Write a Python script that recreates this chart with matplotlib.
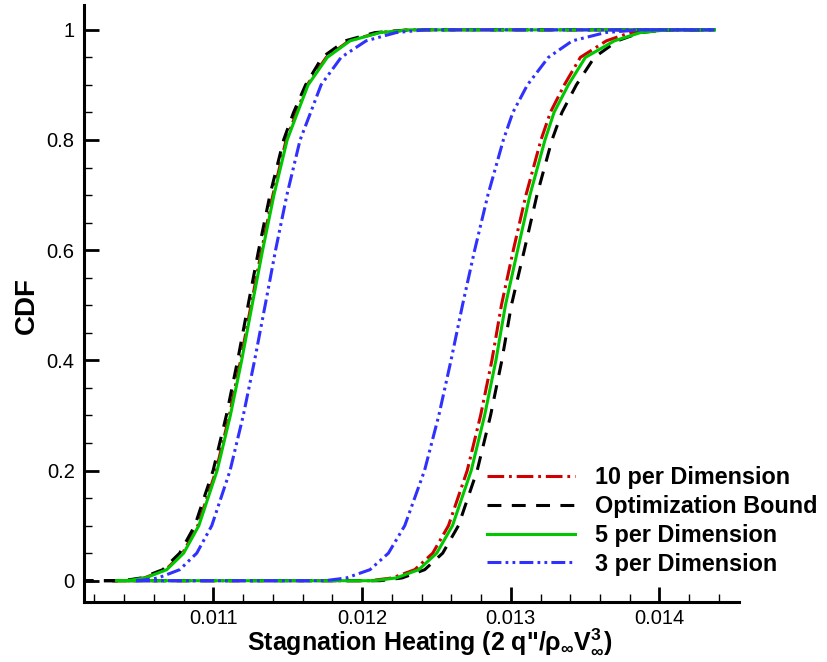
import matplotlib
matplotlib.use("Agg")
import matplotlib.pyplot as plt
from matplotlib.ticker import MultipleLocator, FuncFormatter

plt.rcParams['font.family'] = ['Liberation Sans', 'DejaVu Sans']
plt.rcParams['mathtext.fontset'] = 'custom'
plt.rcParams['mathtext.rm'] = 'Liberation Sans:bold'
plt.rcParams['mathtext.it'] = 'Liberation Sans:bold'
plt.rcParams['mathtext.bf'] = 'Liberation Sans:bold'
plt.rcParams['lines.scale_dashes'] = False

# CDF levels shared by every curve
cdf = [0.0, 0.005, 0.02, 0.05, 0.1, 0.2, 0.3, 0.4, 0.5, 0.6, 0.7, 0.8, 0.85, 0.9, 0.95, 0.98, 0.995, 1.0]

# heating value at each CDF level, lower (left) and upper (right) curve of each series
ten_lo = [0.010410, 0.010534, 0.010679, 0.010793, 0.010895, 0.011018, 0.011107, 0.011183, 0.011253,
          0.011324, 0.011400, 0.011489, 0.011559, 0.011630, 0.011759, 0.011912, 0.012114, 0.012316]
ten_hi = [0.012050, 0.012202, 0.012354, 0.012475, 0.012581, 0.012707, 0.012797, 0.012873, 0.012937,
          0.013017, 0.013102, 0.013203, 0.013266, 0.013360, 0.013468, 0.013643, 0.013804, 0.014006]
opt_lo = [0.010390, 0.010514, 0.010659, 0.010773, 0.010875, 0.010998, 0.011087, 0.011163, 0.011233,
          0.011304, 0.011380, 0.011472, 0.011539, 0.011620, 0.011731, 0.011886, 0.012087, 0.012323]
opt_hi = [0.012120, 0.012269, 0.012421, 0.012542, 0.012648, 0.012774, 0.012864, 0.012940, 0.013004,
          0.013091, 0.013176, 0.013277, 0.013344, 0.013441, 0.013562, 0.013717, 0.013872, 0.014053]
five_lo = [0.010420, 0.010541, 0.010686, 0.010800, 0.010902, 0.011025, 0.011114, 0.011190, 0.011260,
           0.011331, 0.011407, 0.011496, 0.011566, 0.011637, 0.011766, 0.011919, 0.012121, 0.012323]
five_hi = [0.012080, 0.012229, 0.012381, 0.012502, 0.012608, 0.012734, 0.012824, 0.012900, 0.012964,
           0.013046, 0.013129, 0.013230, 0.013291, 0.013387, 0.013502, 0.013697, 0.013872, 0.014053]
three_lo = [0.010500, 0.010628, 0.010773, 0.010888, 0.010989, 0.011112, 0.011201, 0.011277, 0.011348,
            0.011418, 0.011494, 0.011583, 0.011654, 0.011724, 0.011859, 0.012027, 0.012229, 0.012424]
three_hi = [0.011750, 0.011894, 0.012053, 0.012177, 0.012287, 0.012420, 0.012516, 0.012598, 0.012675,
            0.012757, 0.012846, 0.012950, 0.013014, 0.013112, 0.013253, 0.013414, 0.013636, 0.013872]

# where each series' flat parts begin and end
x_start = {'10 per Dimension': 0.01032, 'Optimization Bound': 0.01010,
           '5 per Dimension': 0.01035, '3 per Dimension': 0.01048}
x_end = 0.01437

labels = ['10 per Dimension', 'Optimization Bound', '5 per Dimension', '3 per Dimension']
lows = [ten_lo, opt_lo, five_lo, three_lo]
highs = [ten_hi, opt_hi, five_hi, three_hi]
colors = ['#d00000', 'black', '#00c800', '#3030ff']
dashes = [(12, 3.5, 2, 3.5), (10, 7.5), None, (10, 3, 2, 3, 2, 3)]

fig = plt.figure(figsize=(8.27, 6.62), dpi=100)
ax = fig.add_axes([0.102, 0.0906, 0.7916, 0.9018])

for i in range(4):
    for k, xs in enumerate([lows[i], highs[i]]):
        x = [x_start[labels[i]]] + xs + [x_end]
        y = [0.0] + cdf + [1.0]
        line, = ax.plot(x, y, color=colors[i], lw=2.2, zorder=2 + i,
                        label=labels[i] if k == 0 else None)
        if dashes[i] is not None:
            line.set_dashes(dashes[i])

ax.set_xlim(0.010132, 0.014535)
ax.set_ylim(-0.0387, 1.045)

for s in ['top', 'right']:
    ax.spines[s].set_visible(False)
for s in ['left', 'bottom']:
    ax.spines[s].set_linewidth(2.2)

ax.xaxis.set_major_locator(MultipleLocator(0.001))
ax.xaxis.set_minor_locator(MultipleLocator(0.0002))
ax.yaxis.set_major_locator(MultipleLocator(0.2))
ax.yaxis.set_minor_locator(MultipleLocator(0.05))
fmt = FuncFormatter(lambda v, p: '%g' % round(v, 6))
ax.xaxis.set_major_formatter(fmt)
ax.yaxis.set_major_formatter(fmt)
ax.tick_params(which='major', direction='in', length=11, width=2, labelsize=14.5, pad=7)
ax.tick_params(axis='x', which='major', pad=5)
ax.tick_params(which='minor', direction='in', length=6, width=1)

ax.set_ylabel('CDF', fontsize=20, fontweight='bold')
ax.yaxis.set_label_coords(-0.068, 0.496)
ax.set_xlabel('Stagnation Heating (2 q"/$\\rho_{\\infty}$V$_{\\infty}^{3}$)',
              fontsize=18, fontweight='bold')
ax.xaxis.set_label_coords(0.528, -0.041)

ax.legend(loc='upper left', bbox_to_anchor=(0.589, 0.2960), bbox_transform=fig.transFigure,
          frameon=False, borderpad=0, borderaxespad=0, handlelength=3.77, handletextpad=0.86,
          labelspacing=0.25, prop={'weight': 'bold', 'size': 16.8})

fig.savefig('out.png', dpi=100)
